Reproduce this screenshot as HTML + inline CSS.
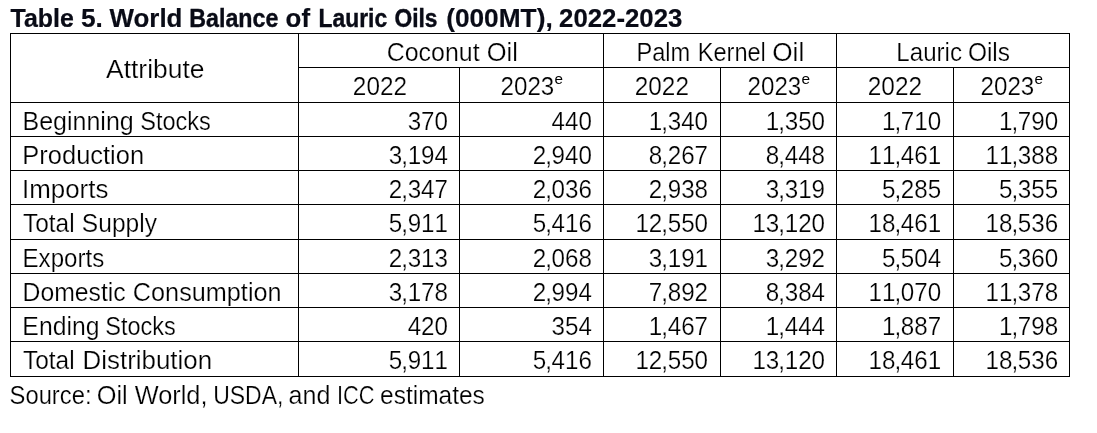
<!DOCTYPE html>
<html><head><meta charset="utf-8"><title>Table 5</title><style>
html,body{margin:0;padding:0;background:#fff}
#p{position:relative;width:1097px;height:433px;overflow:hidden;background:#fff;font-family:"Liberation Sans",sans-serif;}
.t{position:absolute;left:0;top:0;white-space:pre;line-height:1;transform-origin:0 0;will-change:transform;font-size:25.2px;color:#000;-webkit-text-stroke:0.22px #fff;}
.t b{display:inline-block;font-weight:inherit;transform-origin:0 0}
.t b.n{transform:scaleX(0.96);font-kerning:none}
.t i{font-style:normal;margin-left:-1px;letter-spacing:-0.40px}
.v{position:absolute;width:1px;background:#000;}
.h{position:absolute;height:1px;background:#000;}
</style></head><body><div id="p">
<div class="v" style="left:10.00px;top:33.00px;height:344.00px"></div>
<div class="v" style="left:298.00px;top:33.00px;height:344.00px"></div>
<div class="v" style="left:459.00px;top:67.00px;height:310.00px"></div>
<div class="v" style="left:603.00px;top:33.00px;height:344.00px"></div>
<div class="v" style="left:720.00px;top:67.00px;height:310.00px"></div>
<div class="v" style="left:836.00px;top:33.00px;height:344.00px"></div>
<div class="v" style="left:953.00px;top:67.00px;height:310.00px"></div>
<div class="v" style="left:1069.00px;top:33.00px;height:344.00px"></div>
<div class="h" style="top:33.00px;left:10.00px;width:1060.00px"></div>
<div class="h" style="top:67.00px;left:298.00px;width:772.00px"></div>
<div class="h" style="top:102.00px;left:10.00px;width:1060.00px"></div>
<div class="h" style="top:136.00px;left:10.00px;width:1060.00px"></div>
<div class="h" style="top:170.00px;left:10.00px;width:1060.00px"></div>
<div class="h" style="top:204.00px;left:10.00px;width:1060.00px"></div>
<div class="h" style="top:239.00px;left:10.00px;width:1060.00px"></div>
<div class="h" style="top:273.00px;left:10.00px;width:1060.00px"></div>
<div class="h" style="top:307.00px;left:10.00px;width:1060.00px"></div>
<div class="h" style="top:341.00px;left:10.00px;width:1060.00px"></div>
<div class="h" style="top:376.00px;left:10.00px;width:1060.00px"></div>
<div class="t" style="font-weight:700;font-size:24.5px;color:#090b16;-webkit-text-stroke:0.24px #090b16;transform:translate(10.52px,6.09px)"><b style="transform:scale(1.0187,1.028)">Table</b></div>
<div class="t" style="font-weight:700;font-size:24.5px;color:#090b16;-webkit-text-stroke:0.16px #090b16;transform:translate(80.94px,6.09px)"><b style="transform:scale(1.0739,1.028)">5.</b></div>
<div class="t" style="font-weight:700;font-size:24.5px;color:#090b16;-webkit-text-stroke:0.18px #090b16;transform:translate(109.51px,6.09px)"><b style="transform:scale(1.0576,1.028)">World</b></div>
<div class="t" style="font-weight:700;font-size:24.5px;color:#090b16;-webkit-text-stroke:0.36px #090b16;transform:translate(189.28px,6.09px)"><b style="transform:scale(0.9482,1.028)">Balance</b></div>
<div class="t" style="font-weight:700;font-size:24.5px;color:#090b16;-webkit-text-stroke:0.19px #090b16;transform:translate(285.62px,6.09px)"><b style="transform:scale(1.0531,1.028)">of</b></div>
<div class="t" style="font-weight:700;font-size:24.5px;color:#090b16;-webkit-text-stroke:0.39px #090b16;transform:translate(318.61px,6.09px)"><b style="transform:scale(0.9313,1.028)">Lauric</b></div>
<div class="t" style="font-weight:700;font-size:24.5px;color:#090b16;-webkit-text-stroke:0.39px #090b16;transform:translate(394.40px,6.09px)"><b style="transform:scale(0.9305,1.028)">Oils</b></div>
<div class="t" style="font-weight:700;font-size:24.5px;color:#090b16;-webkit-text-stroke:0.16px #090b16;transform:translate(446.17px,6.09px)"><b style="transform:scale(1.0718,1.028)">(000MT),</b></div>
<div class="t" style="font-weight:700;font-size:24.5px;color:#090b16;-webkit-text-stroke:0.19px #090b16;transform:translate(559.04px,6.09px)"><b style="transform:scale(1.0522,1.028)">2022-2023</b></div>
<div class="t" style="transform:translate(106.08px,56.70px)"><b style="transform:scaleX(1.0481)">Attribute</b></div>
<div class="t" style="transform:translate(386.70px,39.80px)"><b style="transform:scaleX(0.9907)">Coconut</b></div>
<div class="t" style="transform:translate(486.68px,39.80px)"><b style="transform:scaleX(1.0106)">Oil</b></div>
<div class="t" style="transform:translate(636.45px,39.80px)"><b style="transform:scaleX(0.9380)">Palm</b></div>
<div class="t" style="transform:translate(697.69px,39.80px)"><b style="transform:scaleX(0.9362)">Kernel</b></div>
<div class="t" style="transform:translate(772.26px,39.80px)"><b style="transform:scaleX(1.0392)">Oil</b></div>
<div class="t" style="transform:translate(896.35px,39.80px)"><b style="transform:scaleX(0.9570)">Lauric</b></div>
<div class="t" style="transform:translate(967.88px,39.80px)"><b style="transform:scaleX(0.9715)">Oils</b></div>
<div class="t" style="transform:translate(352.86px,74.00px)"><b style="transform:scaleX(0.9656)">2022</b></div>
<div class="t" style="transform:translate(634.85px,74.00px)"><b style="transform:scaleX(0.9646)">2022</b></div>
<div class="t" style="transform:translate(867.76px,74.00px)"><b style="transform:scaleX(0.9681)">2022</b></div>
<div class="t" style="transform:translate(500.62px,74.00px)"><b style="transform:scaleX(0.9576)">2023</b></div>
<div class="t" style="font-size:15px;-webkit-text-stroke:0;transform:translate(554.58px,71.10px)"><b style="transform:scaleX(1.0172)">e</b></div>
<div class="t" style="transform:translate(747.62px,74.00px)"><b style="transform:scaleX(0.9576)">2023</b></div>
<div class="t" style="font-size:15px;-webkit-text-stroke:0;transform:translate(801.53px,71.10px)"><b style="transform:scaleX(1.0306)">e</b></div>
<div class="t" style="transform:translate(980.62px,74.00px)"><b style="transform:scaleX(0.9576)">2023</b></div>
<div class="t" style="font-size:15px;-webkit-text-stroke:0;transform:translate(1034.58px,71.10px)"><b style="transform:scaleX(1.0172)">e</b></div>
<div class="t" style="transform:translate(9.56px,383.00px)"><b style="transform:scaleX(0.9440)">Source:</b></div>
<div class="t" style="transform:translate(96.69px,383.00px)"><b style="transform:scaleX(1.0071)">Oil</b></div>
<div class="t" style="transform:translate(134.71px,383.00px)"><b style="transform:scaleX(1.0056)">World,</b></div>
<div class="t" style="transform:translate(213.18px,383.00px)"><b style="transform:scaleX(0.9117)">USDA,</b></div>
<div class="t" style="transform:translate(288.59px,383.00px)"><b style="transform:scaleX(0.9950)">and</b></div>
<div class="t" style="transform:translate(336.97px,383.00px)"><b style="transform:scaleX(0.8664)">ICC</b></div>
<div class="t" style="transform:translate(380.03px,383.00px)"><b style="transform:scaleX(0.9726)">estimates</b></div>
<div class="t" style="transform:translate(22.48px,108.80px)"><b style="transform:scaleX(0.9927)">Beginning</b></div>
<div class="t" style="transform:translate(140.21px,108.80px)"><b style="transform:scaleX(0.9341)">Stocks</b></div>
<div class="t" style="transform:translate(22.35px,142.70px)"><b style="transform:scaleX(1.0109)">Production</b></div>
<div class="t" style="transform:translate(22.07px,176.80px)"><b style="transform:scaleX(1.0274)">Imports</b></div>
<div class="t" style="transform:translate(22.94px,211.00px)"><b style="transform:scaleX(0.9714)">Total</b></div>
<div class="t" style="transform:translate(81.86px,211.00px)"><b style="transform:scaleX(0.9748)">Supply</b></div>
<div class="t" style="transform:translate(22.55px,245.80px)"><b style="transform:scaleX(0.9558)">Exports</b></div>
<div class="t" style="transform:translate(22.57px,279.80px)"><b style="transform:scaleX(0.9830)">Domestic</b></div>
<div class="t" style="transform:translate(132.83px,279.80px)"><b style="transform:scaleX(1.0022)">Consumption</b></div>
<div class="t" style="transform:translate(22.37px,313.70px)"><b style="transform:scaleX(0.9825)">Ending</b></div>
<div class="t" style="transform:translate(105.30px,313.70px)"><b style="transform:scaleX(0.9328)">Stocks</b></div>
<div class="t" style="transform:translate(22.94px,348.00px)"><b style="transform:scaleX(0.9714)">Total</b></div>
<div class="t" style="transform:translate(82.54px,348.00px)"><b style="transform:scaleX(1.0280)">Distribution</b></div>
<div class="t" style="transform:translate(407.63px,108.80px)"><b class="n">370</b></div>
<div class="t" style="transform:translate(551.58px,108.80px)"><b class="n">440</b></div>
<div class="t" style="transform:translate(648.85px,108.80px)"><b class="n">1<i>,</i>340</b></div>
<div class="t" style="transform:translate(765.85px,108.80px)"><b class="n">1<i>,</i>350</b></div>
<div class="t" style="transform:translate(882.00px,108.80px)"><b class="n">1<i>,</i>710</b></div>
<div class="t" style="transform:translate(998.90px,108.80px)"><b class="n">1<i>,</i>790</b></div>
<div class="t" style="transform:translate(388.80px,142.70px)"><b class="n">3<i>,</i>194</b></div>
<div class="t" style="transform:translate(532.75px,142.70px)"><b class="n">2<i>,</i>940</b></div>
<div class="t" style="transform:translate(648.85px,142.70px)"><b class="n">8<i>,</i>267</b></div>
<div class="t" style="transform:translate(765.85px,142.70px)"><b class="n">8<i>,</i>448</b></div>
<div class="t" style="transform:translate(868.55px,142.70px)"><b class="n">11<i>,</i>461</b></div>
<div class="t" style="transform:translate(985.45px,142.70px)"><b class="n">11<i>,</i>388</b></div>
<div class="t" style="transform:translate(388.80px,176.80px)"><b class="n">2<i>,</i>347</b></div>
<div class="t" style="transform:translate(532.75px,176.80px)"><b class="n">2<i>,</i>036</b></div>
<div class="t" style="transform:translate(648.85px,176.80px)"><b class="n">2<i>,</i>938</b></div>
<div class="t" style="transform:translate(765.85px,176.80px)"><b class="n">3<i>,</i>319</b></div>
<div class="t" style="transform:translate(882.00px,176.80px)"><b class="n">5<i>,</i>285</b></div>
<div class="t" style="transform:translate(998.90px,176.80px)"><b class="n">5<i>,</i>355</b></div>
<div class="t" style="transform:translate(388.80px,211.00px)"><b class="n">5<i>,</i>911</b></div>
<div class="t" style="transform:translate(532.75px,211.00px)"><b class="n">5<i>,</i>416</b></div>
<div class="t" style="transform:translate(635.40px,211.00px)"><b class="n">12<i>,</i>550</b></div>
<div class="t" style="transform:translate(752.40px,211.00px)"><b class="n">13<i>,</i>120</b></div>
<div class="t" style="transform:translate(868.55px,211.00px)"><b class="n">18<i>,</i>461</b></div>
<div class="t" style="transform:translate(985.45px,211.00px)"><b class="n">18<i>,</i>536</b></div>
<div class="t" style="transform:translate(388.80px,245.80px)"><b class="n">2<i>,</i>313</b></div>
<div class="t" style="transform:translate(532.75px,245.80px)"><b class="n">2<i>,</i>068</b></div>
<div class="t" style="transform:translate(648.85px,245.80px)"><b class="n">3<i>,</i>191</b></div>
<div class="t" style="transform:translate(765.85px,245.80px)"><b class="n">3<i>,</i>292</b></div>
<div class="t" style="transform:translate(882.00px,245.80px)"><b class="n">5<i>,</i>504</b></div>
<div class="t" style="transform:translate(998.90px,245.80px)"><b class="n">5<i>,</i>360</b></div>
<div class="t" style="transform:translate(388.80px,279.80px)"><b class="n">3<i>,</i>178</b></div>
<div class="t" style="transform:translate(532.75px,279.80px)"><b class="n">2<i>,</i>994</b></div>
<div class="t" style="transform:translate(648.85px,279.80px)"><b class="n">7<i>,</i>892</b></div>
<div class="t" style="transform:translate(765.85px,279.80px)"><b class="n">8<i>,</i>384</b></div>
<div class="t" style="transform:translate(868.55px,279.80px)"><b class="n">11<i>,</i>070</b></div>
<div class="t" style="transform:translate(985.45px,279.80px)"><b class="n">11<i>,</i>378</b></div>
<div class="t" style="transform:translate(407.63px,313.70px)"><b class="n">420</b></div>
<div class="t" style="transform:translate(551.58px,313.70px)"><b class="n">354</b></div>
<div class="t" style="transform:translate(648.85px,313.70px)"><b class="n">1<i>,</i>467</b></div>
<div class="t" style="transform:translate(765.85px,313.70px)"><b class="n">1<i>,</i>444</b></div>
<div class="t" style="transform:translate(882.00px,313.70px)"><b class="n">1<i>,</i>887</b></div>
<div class="t" style="transform:translate(998.90px,313.70px)"><b class="n">1<i>,</i>798</b></div>
<div class="t" style="transform:translate(388.80px,348.00px)"><b class="n">5<i>,</i>911</b></div>
<div class="t" style="transform:translate(532.75px,348.00px)"><b class="n">5<i>,</i>416</b></div>
<div class="t" style="transform:translate(635.40px,348.00px)"><b class="n">12<i>,</i>550</b></div>
<div class="t" style="transform:translate(752.40px,348.00px)"><b class="n">13<i>,</i>120</b></div>
<div class="t" style="transform:translate(868.55px,348.00px)"><b class="n">18<i>,</i>461</b></div>
<div class="t" style="transform:translate(985.45px,348.00px)"><b class="n">18<i>,</i>536</b></div>
</div></body></html>
